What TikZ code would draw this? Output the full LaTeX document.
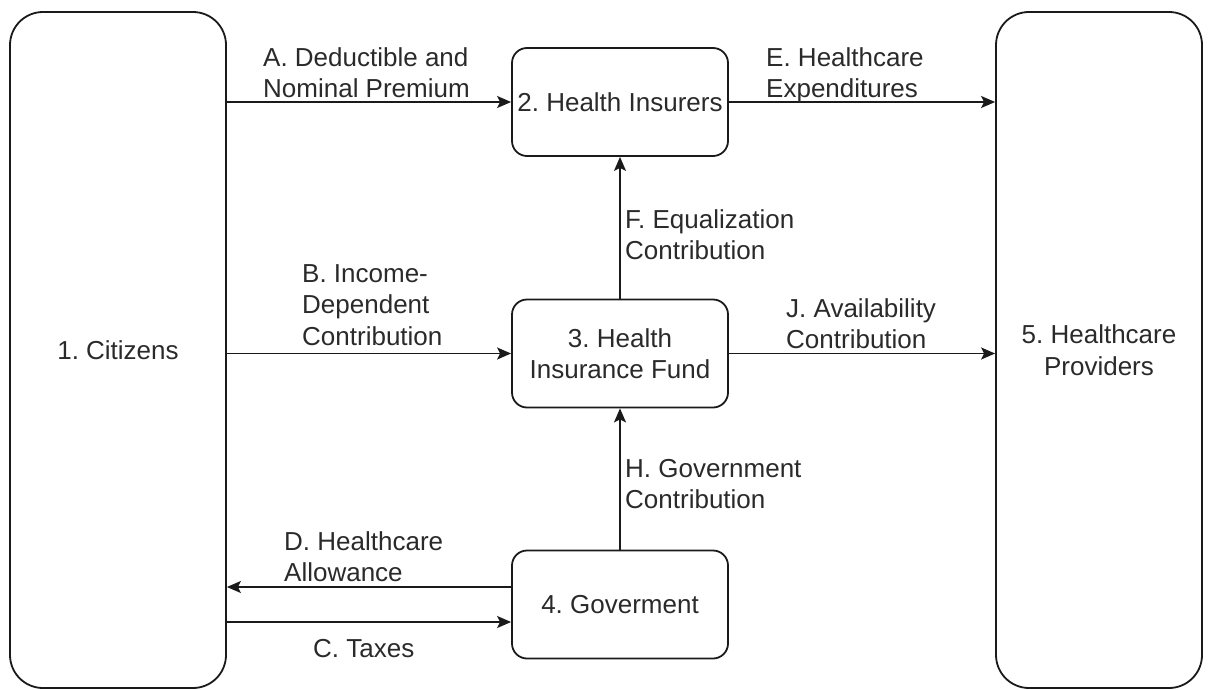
\documentclass[tikz,border=0pt]{standalone}
\usepackage{fontspec}
\setmainfont{Liberation Sans}
\usetikzlibrary{arrows.meta,calc}
\definecolor{txt}{HTML}{2A2A2A}
\definecolor{ln}{HTML}{1A1A1A}
\frenchspacing
\begin{document}
\begin{tikzpicture}[x=1pt,y=-1pt,
  every node/.style={font=\fontsize{26}{31.5}\selectfont, text=txt},
  bigbox/.style={draw=ln, line width=1.8pt, rounded corners=33pt, minimum width=216pt, minimum height=676pt, align=center, inner sep=0pt},
  smallbox/.style={draw=ln, line width=1.8pt, rounded corners=15pt, minimum width=216pt, minimum height=108pt, align=center, inner sep=0pt},
  arr/.style={draw=ln, line width=1.8pt, -{Stealth[length=14pt,width=12pt,inset=3pt]}},
  lbl/.style={anchor=north west, align=left, inner sep=0pt}]
\useasboundingbox (0,0) rectangle (1209,690);
\node[bigbox] (cit) at (118,350) {1. Citizens};
\node[bigbox, minimum width=206pt] (prov) at (1099,350) {5. Healthcare\\Providers};
\node[smallbox] (ins) at (620,102) {2. Health Insurers};
\node[smallbox] (fund) at (620,353.5) {3. Health\\Insurance Fund};
\node[smallbox] (gov) at (620,604.5) {4. Goverment};
\coordinate (dstart) at ($(gov.west)+(0,-17.5)$);
\coordinate (cstart) at ($(gov.west)+(0,17.5)$);
\draw[arr] (ins.west -| cit.east) -- (ins.west);
\draw[arr] (ins.east) -- (ins.east -| prov.west);
\draw[arr] (fund.west -| cit.east) -- (fund.west);
\draw[arr] (fund.east) -- (fund.east -| prov.west);
\draw[arr] (fund.north) -- (ins.south);
\draw[arr] (gov.north) -- (fund.south);
\draw[arr] (dstart) -- (dstart -| cit.east);
\draw[arr] (cstart -| cit.east) -- (cstart);
\node[lbl] (la) at (263,47) {A. Deductible and\\Nominal Premium};
\node[lbl] (le) at (766,47) {E. Healthcare\\Expenditures};
\node[lbl] (lb) at (302,264) {B. Income-\\Dependent\\Contribution};
\node[lbl] (lj) at (786,298) {J. Availability\\Contribution};
\node[lbl] (lf) at (625,209) {F. Equalization\\Contribution};
\node[lbl] (lh) at (625,459) {H. Government\\Contribution};
\node[lbl] (ld) at (284,531) {D. Healthcare\\Allowance};
\node[lbl] (lc) at (313,639) {C. Taxes};
\end{tikzpicture}
\end{document}
